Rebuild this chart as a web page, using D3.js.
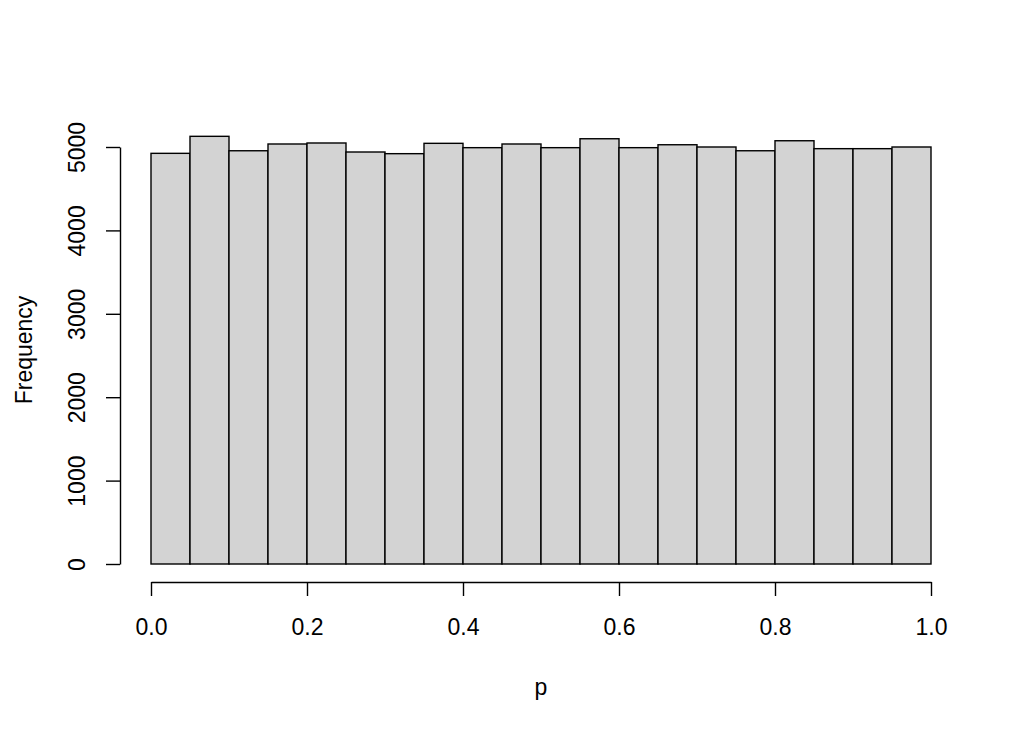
<!DOCTYPE html>
<html><head><meta charset="utf-8">
<script src="https://cdn.jsdelivr.net/npm/d3@7"></script>
<style>body{margin:0;background:#fff}svg{display:block}text{font-family:"Liberation Sans",Arial,sans-serif;fill:#000}</style>
</head><body><svg id="c" width="1024" height="731"></svg>
<script>
const binStarts = [0,0.05,0.1,0.15,0.2,0.25,0.3,0.35,0.4,0.45,0.5,0.55,0.6,0.65,0.7,0.75,0.8,0.85,0.9,0.95];
const counts = [4924,5128,4955,5036,5048,4940,4920,5044,4992,5036,4992,5099,4992,5027,5000,4955,5075,4980,4980,5000];
const xTicks = [0,0.2,0.4,0.6,0.8,1.0];
const yTicks = [0,1000,2000,3000,4000,5000];
const binWidth = 0.05;
const FS = 23;

const svg = d3.select("#c");
const x = d3.scaleLinear().domain([0,1]).range([151,931]);
const y = d3.scaleLinear().domain([0,5000]).range([564,147]);

svg.append("g").selectAll("rect").data(binStarts).join("rect")
  .attr("x", d=>x(d)).attr("width", d=>x(d+binWidth)-x(d))
  .attr("y", (d,i)=>y(counts[i])).attr("height", (d,i)=>y(0)-y(counts[i]))
  .attr("fill","#d3d3d3").attr("stroke","#000").attr("stroke-width",1.4);

const xa = svg.append("g").attr("transform","translate(0,582)")
  .call(d3.axisBottom(x).tickValues(xTicks).tickFormat(d3.format(".1f")).tickSize(14).tickSizeOuter(0));
const ya = svg.append("g").attr("transform","translate(120,0)")
  .call(d3.axisLeft(y).tickValues(yTicks).tickFormat(d3.format("d")).tickSize(14).tickSizeOuter(0));
[xa,ya].forEach(a=>{a.select(".domain").attr("stroke","#000").attr("stroke-width",1.4);
  a.selectAll(".tick line").attr("stroke","#000").attr("stroke-width",1.4);
  a.selectAll("text").attr("font-size",FS).attr("font-family","Liberation Sans, Arial, sans-serif");});
xa.selectAll(".tick text").attr("dy",0).attr("y",53);
ya.selectAll(".tick text").attr("transform", "translate(-35,0) rotate(-90)")
  .attr("x",0).attr("y",0).attr("dy",0).attr("text-anchor","middle");

svg.append("text").attr("x",541).attr("y",695).attr("text-anchor","middle").attr("font-size",FS).text("p");
svg.append("text").attr("transform","translate(32,350) rotate(-90)").attr("text-anchor","middle").attr("font-size",FS).text("Frequency");
</script></body></html>
